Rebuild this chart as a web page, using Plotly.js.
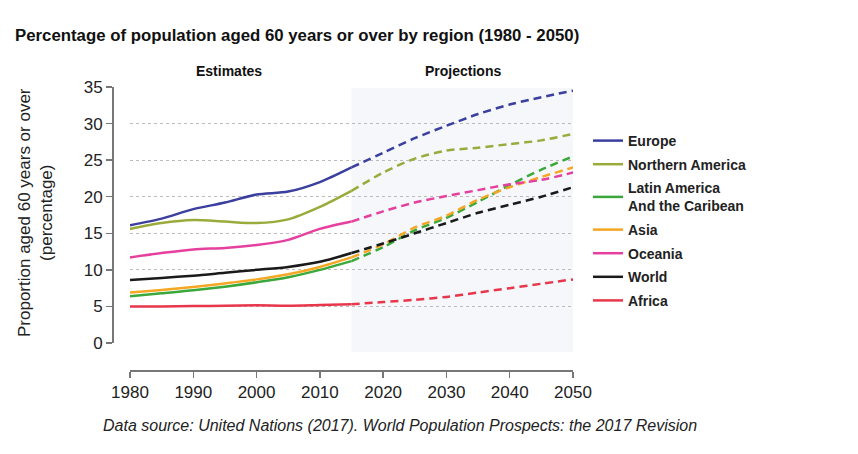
<!DOCTYPE html>
<html>
<head>
<meta charset="utf-8">
<script src="https://cdn.plot.ly/plotly-3.0.1.min.js"></script>
<style>html,body{margin:0;padding:0;background:#fff;}#chart{width:858px;height:454px;}</style>
</head>
<body>
<div id="chart"></div>
<script>
var yearsEst = [1980, 1985, 1990, 1995, 2000, 2005, 2010, 2015];
var yearsProj = [2015, 2020, 2025, 2030, 2035, 2040, 2045, 2050];

var regions = ["Europe", "Northern America", "Latin America<br>And the Caribean", "Asia", "Oceania", "World", "Africa"];
var colors = ["#3b3f9e", "#9aab3c", "#3aa83a", "#f5a623", "#e6409f", "#1a1a1a", "#e8374b"];

var europeEst = [16.1, 17.0, 18.3, 19.2, 20.3, 20.7, 22.0, 24.0];
var europeProj = [24.0, 26.0, 28.0, 29.7, 31.3, 32.6, 33.6, 34.5];
var namericaEst = [15.6, 16.4, 16.8, 16.6, 16.4, 16.9, 18.6, 20.8];
var namericaProj = [20.8, 23.3, 25.2, 26.3, 26.7, 27.2, 27.7, 28.6];
var latinEst = [6.4, 6.8, 7.2, 7.7, 8.3, 9.0, 10.0, 11.2];
var latinProj = [11.2, 13.1, 15.4, 17.1, 19.3, 21.6, 23.7, 25.5];
var asiaEst = [6.9, 7.25, 7.65, 8.15, 8.7, 9.4, 10.4, 11.7];
var asiaProj = [11.7, 13.5, 15.8, 17.4, 19.6, 21.3, 22.7, 24.0];
var oceaniaEst = [11.7, 12.3, 12.8, 13.0, 13.4, 14.1, 15.6, 16.6];
var oceaniaProj = [16.6, 18.0, 19.2, 20.1, 20.9, 21.7, 22.3, 23.3];
var worldEst = [8.6, 8.9, 9.2, 9.6, 10.0, 10.4, 11.1, 12.3];
var worldProj = [12.3, 13.6, 15.0, 16.4, 17.8, 18.9, 20.0, 21.3];
var africaEst = [5.0, 5.0, 5.05, 5.1, 5.15, 5.1, 5.2, 5.3];
var africaProj = [5.3, 5.6, 5.9, 6.3, 6.9, 7.5, 8.1, 8.7];

var estSeries = [europeEst, namericaEst, latinEst, asiaEst, oceaniaEst, worldEst, africaEst];
var projSeries = [europeProj, namericaProj, latinProj, asiaProj, oceaniaProj, worldProj, africaProj];

var FONT = "'Liberation Sans', Arial, sans-serif";

var traces = [];
for (var i = 0; i < regions.length; i++) {
  traces.push({
    x: yearsEst, y: estSeries[i], type: "scatter", mode: "lines",
    name: regions[i], legendgroup: "g" + i, showlegend: true,
    line: {color: colors[i], width: 2.5, shape: "spline", smoothing: 0.8},
    hoverinfo: "skip"
  });
  traces.push({
    x: yearsProj, y: projSeries[i], type: "scatter", mode: "lines",
    name: regions[i], legendgroup: "g" + i, showlegend: false,
    line: {color: colors[i], width: 2.5, shape: "spline", smoothing: 0.8, dash: "8px,5px"},
    hoverinfo: "skip"
  });
}

var layout = {
  width: 858, height: 454,
  margin: {l: 112, r: 285, t: 80, b: 84, pad: 0},
  paper_bgcolor: "#ffffff", plot_bgcolor: "rgba(0,0,0,0)",
  font: {family: FONT, color: "#222"},
  title: {
    text: "<b>Percentage of population aged 60 years or over by region (1980 - 2050)</b>",
    font: {family: FONT, size: 16.8, color: "#111"},
    x: 15/858, xanchor: "left", xref: "container",
    y: 1 - 35/454, yanchor: "middle", yref: "container"
  },
  xaxis: {
    domain: [18/461, 1], range: [1980, 2050], anchor: "free", position: 0,
    showline: true, linecolor: "#777", linewidth: 1.5,
    ticks: "outside", ticklen: 6, tickcolor: "#777", tickwidth: 1.5,
    tickvals: [1980, 1990, 2000, 2010, 2020, 2030, 2040, 2050],
    tickfont: {size: 17, color: "#222"},
    showgrid: false, zeroline: false
  },
  yaxis: {
    domain: [27/290, 283/290], range: [0, 35], anchor: "free", position: 0,
    showline: true, linecolor: "#777", linewidth: 1.5,
    ticks: "outside", ticklen: 6, tickcolor: "#777", tickwidth: 1.5,
    dtick: 5, tick0: 0,
    tickfont: {size: 17, color: "#222"},
    showgrid: true, gridcolor: "#bbbbbb", griddash: "dot", gridwidth: 1,
    zeroline: false
  },
  legend: {
    x: (588-112)/461, xanchor: "left", y: (370-125)/290, yanchor: "top",
    font: {family: FONT, size: 14, color: "#222", weight: "bold"},
    bgcolor: "rgba(0,0,0,0)", tracegroupgap: 2.4, traceorder: "grouped",
    itemwidth: 30
  },
  shapes: [{
    type: "rect", layer: "below", xref: "x", yref: "paper",
    x0: 2015, x1: 2050, y0: (370-352)/290, y1: (370-88)/290,
    fillcolor: "#f5f7fb", line: {width: 0}
  }],
  annotations: [
    {text: "<b>Estimates</b>", xref: "paper", yref: "paper", x: (229-112)/461, y: (370-71)/290,
     showarrow: false, font: {size: 14, family: FONT, color: "#111"}, xanchor: "center", yanchor: "middle"},
    {text: "<b>Projections</b>", xref: "paper", yref: "paper", x: (463-112)/461, y: (370-71)/290,
     showarrow: false, font: {size: 14, family: FONT, color: "#111"}, xanchor: "center", yanchor: "middle"},
    {text: "Proportion aged 60 years or over<br>(percentage)", xref: "paper", yref: "paper",
     x: (35-112)/461, y: (370-213)/290, textangle: -90, showarrow: false,
     font: {size: 17, family: FONT, color: "#222"}, xanchor: "center", yanchor: "middle"},
    {text: "<i>Data source: United Nations (2017). World Population Prospects: the 2017 Revision</i>",
     xref: "paper", yref: "paper", x: (400-112)/461, y: (370-425)/290,
     showarrow: false, font: {size: 16, family: FONT, color: "#222"}, xanchor: "center", yanchor: "middle"}
  ],
  showlegend: true
};

Plotly.newPlot("chart", traces, layout, {displayModeBar: false, staticPlot: true});
</script>
</body>
</html>
